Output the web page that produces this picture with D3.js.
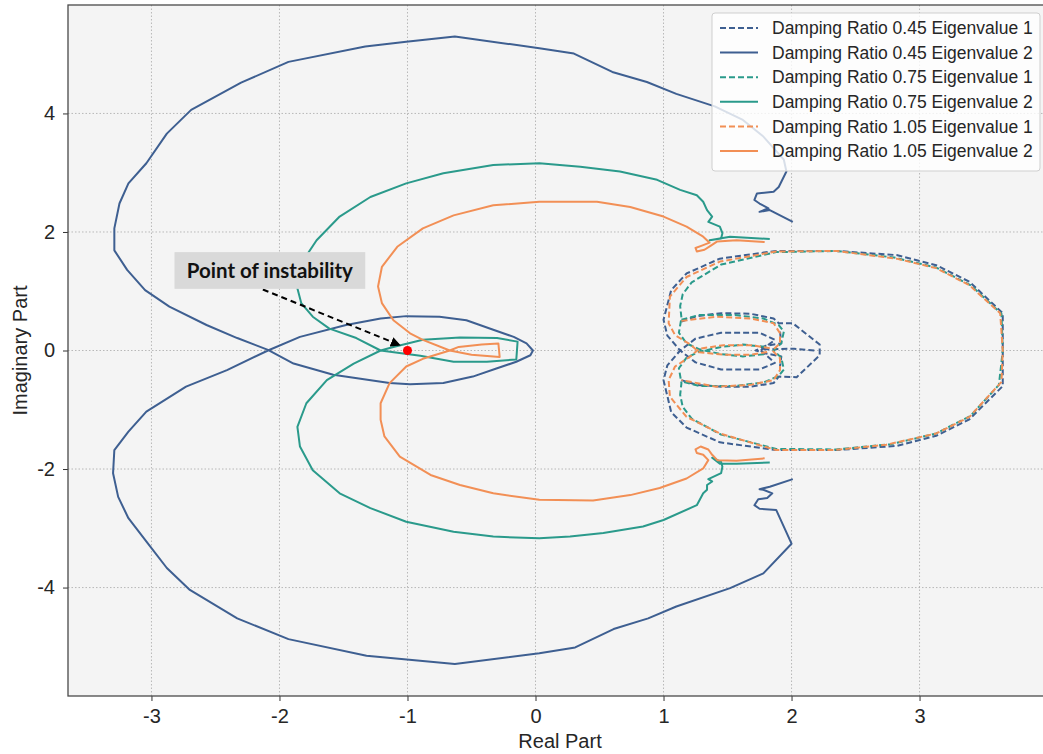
<!DOCTYPE html>
<html>
<head>
<meta charset="utf-8">
<script src="https://cdn.jsdelivr.net/npm/d3@7"></script>
<style>
  body { margin: 0; background: #fff; }
  text { font-family: "Liberation Sans", Arial, sans-serif; }
</style>
</head>
<body>
<div id="chart"></div>
<script>
// tick values
var xTicks = [-3, -2, -1, 0, 1, 2, 3];
var yTicks = [-4, -2, 0, 2, 4];

// Damping Ratio 0.45, eigenvalue 2 (solid blue) - [real, imag]
var dr045eig2 = [
    [2.01,2.17],[1.83,2.37],[1.75,2.34],[1.82,2.40],[1.75,2.48],[1.71,2.54],[1.73,2.65],[1.86,2.68],
    [1.90,2.76],[1.96,3.02],[1.94,3.22],[1.78,3.61],[1.62,3.89],[1.40,4.12],[1.10,4.33],[0.87,4.53],
    [0.60,4.70],[0.30,5.01],[0.03,5.10],[-0.63,5.30],[-1.01,5.21],[-1.33,5.13],[-1.93,4.87],[-2.30,4.52],
    [-2.69,4.06],[-2.88,3.66],[-3.04,3.16],[-3.18,2.82],[-3.25,2.48],[-3.29,2.06],[-3.29,1.69],[-3.19,1.36],
    [-3.05,1.02],[-2.86,0.74],[-2.57,0.43],[-2.33,0.21],[-2.09,0.01],[-1.89,-0.22],[-1.58,-0.41],[-1.14,-0.55],
    [-0.98,-0.57],[-0.72,-0.55],[-0.49,-0.44],[-0.30,-0.30],[-0.15,-0.19],[-0.04,-0.08],[-0.02,0.0],[-0.07,0.12],
    [-0.17,0.23],[-0.33,0.35],[-0.54,0.51],[-0.75,0.57],[-1.01,0.58],[-1.21,0.54],[-1.48,0.43],[-1.84,0.23],
    [-2.09,0.0],[-2.41,-0.33],[-2.73,-0.61],[-3.04,-1.03],[-3.18,-1.37],[-3.29,-1.68],[-3.30,-2.07],[-3.26,-2.47],
    [-3.18,-2.83],[-3.03,-3.25],[-2.88,-3.67],[-2.70,-4.04],[-2.33,-4.52],[-1.93,-4.87],[-1.32,-5.15],[-0.63,-5.29],
    [0.03,-5.11],[0.31,-5.01],[0.61,-4.70],[0.88,-4.52],[1.10,-4.32],[1.52,-4.01],[1.78,-3.76],[2.00,-3.26],
    [1.88,-2.69],[1.75,-2.67],[1.71,-2.61],[1.74,-2.51],[1.81,-2.49],[1.85,-2.41],[1.78,-2.35],[1.75,-2.34],
    [1.83,-2.30],[2.01,-2.17]
];

// Damping Ratio 0.75, eigenvalue 2 (solid teal)
var dr075eig2 = [
    [1.83,1.88],[1.52,1.92],[1.36,1.86],[1.45,1.89],[1.46,1.98],[1.44,2.09],[1.35,2.17],[1.38,2.26],
    [1.34,2.37],[1.31,2.51],[1.26,2.62],[1.13,2.71],[0.95,2.88],[0.66,3.02],[0.35,3.10],[0.03,3.16],
    [-0.33,3.13],[-0.72,2.99],[-1.01,2.82],[-1.29,2.59],[-1.53,2.26],[-1.71,1.86],[-1.83,1.47],[-1.87,1.13],
    [-1.83,0.80],[-1.74,0.57],[-1.61,0.37],[-1.40,0.21],[-1.21,0.0],[-0.90,-0.09],[-0.64,-0.19],[-0.38,-0.19],
    [-0.15,-0.15],[-0.14,0.15],[-0.30,0.21],[-0.59,0.22],[-0.88,0.18],[-1.11,0.06],[-1.21,0.0],[-1.42,-0.22],
    [-1.63,-0.50],[-1.79,-0.89],[-1.86,-1.29],[-1.84,-1.62],[-1.74,-2.02],[-1.53,-2.41],[-1.29,-2.66],[-1.01,-2.89],
    [-0.64,-3.06],[-0.33,-3.14],[0.03,-3.17],[0.27,-3.14],[0.53,-3.08],[0.84,-2.97],[1.00,-2.86],[1.26,-2.61],
    [1.31,-2.41],[1.34,-2.35],[1.34,-2.27],[1.38,-2.21],[1.35,-2.17],[1.45,-2.07],[1.46,-1.96],[1.45,-1.88],
    [1.38,-1.81],[1.44,-1.91],[1.57,-1.91],[1.83,-1.89]
];

// Damping Ratio 1.05, eigenvalue 2 (solid orange)
var dr105eig2 = [
    [1.79,1.83],[1.57,1.86],[1.42,1.84],[1.37,1.77],[1.32,1.70],[1.26,1.67],[1.25,1.73],[1.30,1.77],
    [1.36,1.82],[1.31,1.92],[1.18,2.09],[1.00,2.26],[0.74,2.42],[0.48,2.51],[0.03,2.51],[-0.33,2.45],
    [-0.64,2.28],[-0.88,2.06],[-1.08,1.75],[-1.20,1.41],[-1.23,1.08],[-1.20,0.80],[-1.11,0.51],[-0.98,0.29],
    [-0.88,0.18],[-0.67,0.0],[-0.50,-0.07],[-0.28,-0.11],[-0.29,0.12],[-0.42,0.10],[-0.60,0.06],[-0.67,0.0],
    [-0.88,-0.14],[-1.01,-0.27],[-1.14,-0.55],[-1.21,-0.89],[-1.21,-1.17],[-1.18,-1.45],[-1.06,-1.79],[-0.82,-2.10],
    [-0.59,-2.27],[-0.33,-2.41],[0.03,-2.52],[0.45,-2.53],[0.74,-2.44],[0.97,-2.32],[1.18,-2.16],[1.31,-1.99],
    [1.35,-1.85],[1.31,-1.76],[1.26,-1.73],[1.25,-1.67],[1.29,-1.62],[1.35,-1.67],[1.38,-1.76],[1.42,-1.85],
    [1.57,-1.86],[1.79,-1.82]
];

// eigenvalue 1 curves (dashed) are drawn in pieces
var dr045eig1 = [
    [[1.76,0.0],[1.87,0.18],[1.75,0.30],[1.45,0.30],[1.25,0.20],[1.13,0.0],[1.03,-0.25],[1.00,-0.50],
     [1.06,-1.04],[1.18,-1.30],[1.44,-1.55],[1.88,-1.68],[2.35,-1.68],[2.82,-1.61],[3.13,-1.44],[3.39,-1.16],
     [3.65,-0.60],[3.65,0.63],[3.39,1.16],[3.13,1.44],[2.82,1.61],[2.35,1.68],[1.88,1.68],[1.44,1.55],
     [1.18,1.30],[1.06,1.02],[1.00,0.52],[1.03,0.25],[1.13,0.0],[1.25,-0.20],[1.45,-0.32],[1.75,-0.32],
     [1.87,-0.21],[1.76,0.0]],
    [[1.14,0.49],[1.26,0.58],[1.45,0.63],[1.68,0.62],[1.86,0.54],[1.90,0.46],[2.01,0.46],[2.22,0.10],
     [2.22,-0.08],[2.04,-0.45],[1.90,-0.44],[1.86,-0.55],[1.68,-0.61],[1.45,-0.61],[1.26,-0.58],[1.14,-0.50]],
    [[1.91,0.32],[1.92,0.12],[1.80,0.08],[1.72,0.0],[1.80,-0.05],[1.92,-0.10],[1.91,-0.27]],
    [[1.78,0.02],[2.02,0.03],[2.18,0.0]]
];

var dr075eig1 = [
    [[1.80,0.06],[1.62,0.10],[1.45,0.06],[1.28,-0.02],[1.18,-0.12],[1.12,-0.30],[1.14,-0.55],[1.13,-0.75],
     [1.15,-0.95],[1.22,-1.15],[1.45,-1.42],[1.88,-1.66],[2.35,-1.67],[2.78,-1.58],[3.13,-1.40],[3.40,-1.10],
     [3.62,-0.58],[3.65,0.0],[3.64,0.62],[3.40,1.10],[3.13,1.40],[2.80,1.57],[2.35,1.68],[1.88,1.66],
     [1.45,1.45],[1.22,1.15],[1.15,0.95],[1.13,0.75],[1.14,0.55],[1.12,0.30],[1.18,0.12],[1.28,0.02],
     [1.45,-0.06],[1.62,-0.10],[1.80,-0.06]],
    [[1.14,0.52],[1.28,0.60],[1.55,0.60],[1.78,0.54],[1.90,0.43],[1.94,0.32],[1.92,0.12],[1.86,0.0],
     [1.92,-0.12],[1.94,-0.32],[1.90,-0.43],[1.78,-0.54],[1.55,-0.60],[1.28,-0.60],[1.14,-0.52]]
];

var dr105eig1 = [
    [[1.83,0.04],[1.68,0.09],[1.47,0.09],[1.28,0.03],[1.21,-0.10],[1.09,-0.27],[1.04,-0.50],[1.05,-0.78],
     [1.18,-1.12],[1.44,-1.40],[1.88,-1.68],[2.33,-1.68],[2.74,-1.59],[3.13,-1.40],[3.39,-1.12],[3.64,-0.53],
     [3.65,0.0],[3.63,0.63],[3.39,1.10],[3.13,1.39],[2.82,1.55],[2.35,1.68],[1.88,1.67],[1.44,1.50],
     [1.18,1.24],[1.05,0.91],[1.04,0.46],[1.09,0.26],[1.21,0.10],[1.28,-0.03],[1.47,-0.07],[1.68,-0.07],
     [1.83,-0.02]],
    [[1.14,0.50],[1.41,0.57],[1.68,0.54],[1.86,0.46],[1.91,0.29],[1.91,0.12],[1.85,0.0],[1.91,-0.13],
     [1.91,-0.33],[1.86,-0.50],[1.68,-0.58],[1.41,-0.61],[1.14,-0.50]]
];

var seriesNames = [
    "Damping Ratio 0.45 Eigenvalue 1", "Damping Ratio 0.45 Eigenvalue 2",
    "Damping Ratio 0.75 Eigenvalue 1", "Damping Ratio 0.75 Eigenvalue 2",
    "Damping Ratio 1.05 Eigenvalue 1", "Damping Ratio 1.05 Eigenvalue 2"
];

var blue = "#3e5f91", teal = "#2a9a8b", orange = "#f28f55";
var series = [
    { name: seriesNames[0], parts: dr045eig1, color: blue, dashed: true },
    { name: seriesNames[1], parts: [dr045eig2], color: blue, dashed: false },
    { name: seriesNames[2], parts: dr075eig1, color: teal, dashed: true },
    { name: seriesNames[3], parts: [dr075eig2], color: teal, dashed: false },
    { name: seriesNames[4], parts: dr105eig1, color: orange, dashed: true },
    { name: seriesNames[5], parts: [dr105eig2], color: orange, dashed: false }
];

var svgWidth = 1043, svgHeight = 754;
var plotLeft = 68, plotRight = 1045, plotTop = 5, plotBottom = 696;

var svg = d3.select("#chart").append("svg")
    .attr("width", svgWidth)
    .attr("height", svgHeight);

var x = d3.scaleLinear().domain([-3.652, 3.98]).range([plotLeft, plotRight]);
var y = d3.scaleLinear().domain([-5.83, 5.83]).range([plotBottom, plotTop]);

svg.append("clipPath").attr("id", "clip")
    .append("rect")
    .attr("x", plotLeft).attr("y", plotTop)
    .attr("width", plotRight - plotLeft).attr("height", plotBottom - plotTop);

// background
svg.append("rect")
    .attr("x", plotLeft).attr("y", plotTop)
    .attr("width", plotRight - plotLeft).attr("height", plotBottom - plotTop)
    .attr("fill", "#f4f4f4");

// grid
svg.append("g").selectAll("line").data(xTicks).enter().append("line")
    .attr("x1", function(d) { return x(d); }).attr("x2", function(d) { return x(d); })
    .attr("y1", plotTop).attr("y2", plotBottom)
    .attr("stroke", "#a8a8a8").attr("stroke-width", 0.8).attr("stroke-dasharray", "1.5,2");
svg.append("g").selectAll("line").data(yTicks).enter().append("line")
    .attr("y1", function(d) { return y(d); }).attr("y2", function(d) { return y(d); })
    .attr("x1", plotLeft).attr("x2", plotRight)
    .attr("stroke", "#a8a8a8").attr("stroke-width", 0.8).attr("stroke-dasharray", "1.5,2");

// axes (plain hyphen for negatives, as in the original)
var fmt = function(d) { return String(d); };
var xAxis = svg.append("g")
    .attr("transform", "translate(0," + plotBottom + ")")
    .call(d3.axisBottom(x).tickValues(xTicks).tickSize(5).tickPadding(8).tickFormat(fmt));
var yAxis = svg.append("g")
    .attr("transform", "translate(" + plotLeft + ",0)")
    .call(d3.axisLeft(y).tickValues(yTicks).tickSize(5).tickPadding(8).tickFormat(fmt));
[xAxis, yAxis].forEach(function(a) {
    a.select(".domain").remove();
    a.selectAll("line").attr("stroke", "#333");
    a.selectAll("text").attr("fill", "#262626")
        .style("font-size", "20px")
        .style("font-family", "'Liberation Sans', Arial, sans-serif");
});

// curves
var line = d3.line()
    .x(function(d) { return x(d[0]); })
    .y(function(d) { return y(d[1]); });

var curves = svg.append("g").attr("clip-path", "url(#clip)");
series.forEach(function(s) {
    curves.selectAll(null)
        .data(s.parts)
        .enter()
        .append("path")
        .attr("d", line)
        .attr("fill", "none")
        .attr("stroke", s.color)
        .attr("stroke-width", 2)
        .attr("stroke-linejoin", "round")
        .attr("stroke-dasharray", s.dashed ? "6,3" : null);
});

// frame
svg.append("rect")
    .attr("x", plotLeft).attr("y", plotTop)
    .attr("width", plotRight - plotLeft).attr("height", plotBottom - plotTop)
    .attr("fill", "none").attr("stroke", "#4a4a4a").attr("stroke-width", 1.3);

// point of instability
var marker = [-1, 0];
var arrowFrom = [-2.13, 1.03], arrowTo = [-1.06, 0.09];

svg.append("defs").append("marker")
    .attr("id", "head")
    .attr("viewBox", "0 0 10 10")
    .attr("refX", 9).attr("refY", 5)
    .attr("markerWidth", 5).attr("markerHeight", 5)
    .attr("orient", "auto")
    .append("path").attr("d", "M0,0 L10,5 L0,10 z").attr("fill", "#000");

svg.append("line")
    .attr("x1", x(arrowFrom[0])).attr("y1", y(arrowFrom[1]))
    .attr("x2", x(arrowTo[0])).attr("y2", y(arrowTo[1]))
    .attr("stroke", "#000").attr("stroke-width", 2)
    .attr("stroke-dasharray", "6,4")
    .attr("marker-end", "url(#head)");

svg.append("circle")
    .attr("cx", x(marker[0])).attr("cy", y(marker[1]))
    .attr("r", 4.5).attr("fill", "#ff0000");

svg.append("rect")
    .attr("x", x(-2.82)).attr("y", y(1.66))
    .attr("width", x(-1.33) - x(-2.82)).attr("height", y(1.04) - y(1.66))
    .attr("fill", "#d9d9d9");
svg.append("text")
    .attr("x", (x(-2.82) + x(-1.33)) / 2).attr("y", y(1.35))
    .attr("dy", "0.35em")
    .attr("text-anchor", "middle")
    .style("font-family", "Lato, 'Open Sans', sans-serif")
    .style("font-weight", "bold")
    .style("font-size", "20.5px")
    .attr("fill", "#111")
    .text("Point of instability");

// axis labels
svg.append("text")
    .attr("x", 560).attr("y", 748)
    .attr("text-anchor", "middle")
    .style("font-size", "20px").attr("fill", "#262626")
    .text("Real Part");
svg.append("text")
    .attr("transform", "translate(27," + ((plotTop + plotBottom) / 2) + ") rotate(-90)")
    .attr("text-anchor", "middle")
    .style("font-size", "20px").attr("fill", "#262626")
    .text("Imaginary Part");

// legend
var legend = svg.append("g").attr("transform", "translate(712,13)");
legend.append("rect")
    .attr("width", 328).attr("height", 158)
    .attr("rx", 3)
    .attr("fill", "rgba(255,255,255,0.8)")
    .attr("stroke", "#cfcfcf");
var rows = legend.selectAll("g.row").data(series).enter().append("g")
    .attr("class", "row")
    .attr("transform", function(d, i) { return "translate(0," + (15 + i * 24.6) + ")"; });
rows.append("line")
    .attr("x1", 8).attr("x2", 46)
    .attr("stroke", function(d) { return d.color; })
    .attr("stroke-width", 2)
    .attr("stroke-dasharray", function(d) { return d.dashed ? "6,3" : null; });
rows.append("text")
    .attr("x", 60).attr("dy", "0.35em")
    .style("font-size", "17.5px").attr("fill", "#262626")
    .text(function(d) { return d.name; });
</script>
</body>
</html>
